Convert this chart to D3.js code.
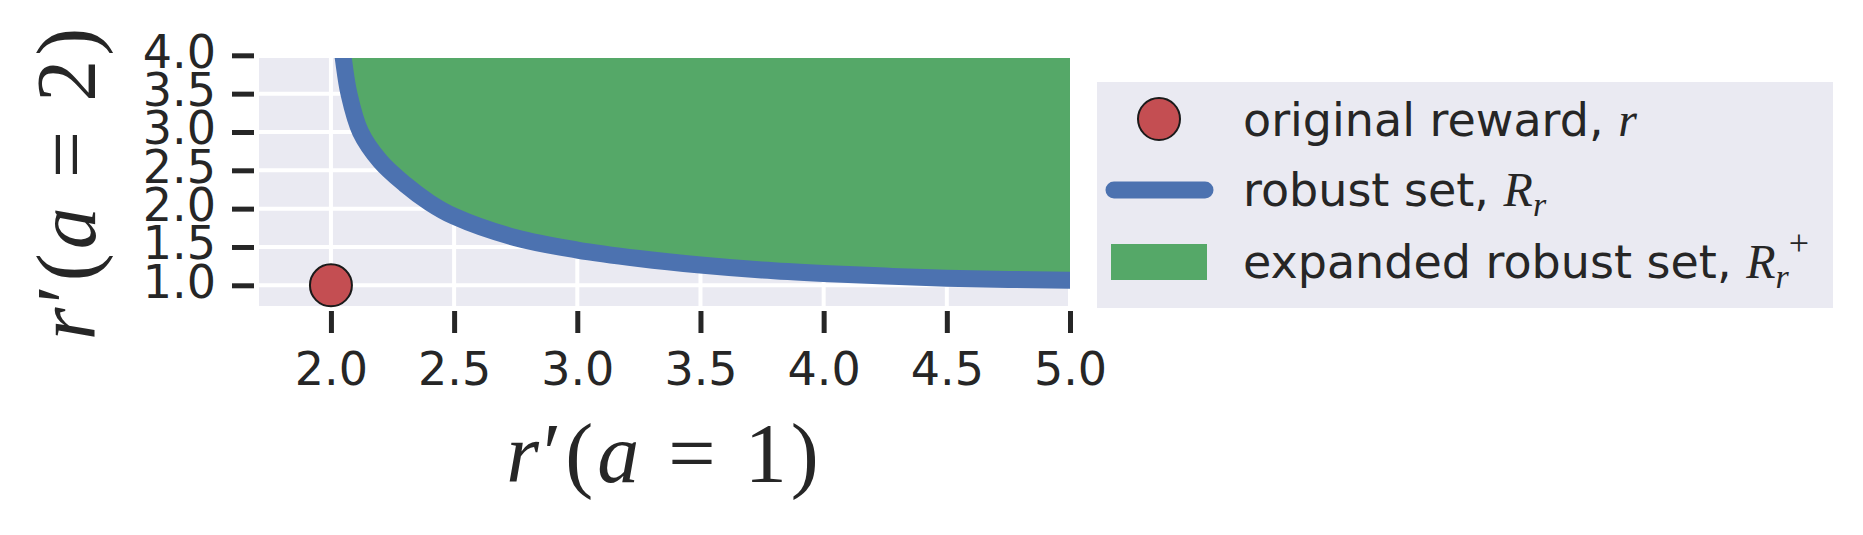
<!DOCTYPE html>
<html>
<head>
<meta charset="utf-8">
<script src="https://cdn.jsdelivr.net/npm/d3@7"></script>
<style>
  body { margin: 0; background: #fff; }
  text { fill: #262626; }
</style>
</head>
<body>
<div id="chart"></div>
<script>
// values
var xTicks = [2.0, 2.5, 3.0, 3.5, 4.0, 4.5, 5.0];
var yTicks = [1.0, 1.5, 2.0, 2.5, 3.0, 3.5, 4.0];
var robustX = [2.04, 2.05, 2.073, 2.12, 2.2, 2.3, 2.4, 2.5, 2.75, 3.0, 3.25, 3.5, 3.75, 4.0, 4.25, 4.5, 4.75, 5.0];
var robustY = [4.2, 3.965, 3.5, 3.0, 2.62, 2.32, 2.08, 1.9, 1.62, 1.46, 1.35, 1.265, 1.2, 1.155, 1.12, 1.093, 1.077, 1.065];
var originalX = [2.0];
var originalY = [1.0];
var legendLabels = ["original reward, ", "robust set, ", "expanded robust set, "];

function init() {
    var w = 1863;
    var h = 535;
    var left = 259, right = 1070, top = 58, bottom = 306;

    var svg = d3.select("#chart")
        .append("svg")
        .attr("width", w)
        .attr("height", h)
        .style("font-family", "'DejaVu Sans', sans-serif");

    var x = d3.scaleLinear().domain([1.708, 5.0]).range([left, right]);
    var y = d3.scaleLinear().domain([0.73, 3.965]).range([bottom, top]);

    svg.append("defs").append("clipPath")
        .attr("id", "plotclip")
        .append("rect")
        .attr("x", left).attr("y", top)
        .attr("width", right - left).attr("height", bottom - top);

    svg.append("rect")
        .attr("x", left).attr("y", top)
        .attr("width", right - left).attr("height", bottom - top)
        .attr("fill", "#EAEAF2");

    var plot = svg.append("g").attr("clip-path", "url(#plotclip)");

    // grid
    plot.selectAll(".vgrid")
        .data(xTicks)
        .enter()
        .append("line")
        .attr("x1", function (d) { return x(d); })
        .attr("x2", function (d) { return x(d); })
        .attr("y1", top).attr("y2", bottom)
        .attr("stroke", "#fff").attr("stroke-width", 4);
    plot.selectAll(".hgrid")
        .data(yTicks)
        .enter()
        .append("line")
        .attr("y1", function (d) { return y(d); })
        .attr("y2", function (d) { return y(d); })
        .attr("x1", left).attr("x2", right)
        .attr("stroke", "#fff").attr("stroke-width", 4);

    var pts = robustX.map(function (d, i) { return [d, robustY[i]]; });

    var area = d3.area()
        .x(function (d) { return x(d[0]); })
        .y0(top - 20)
        .y1(function (d) { return y(d[1]); })
        .curve(d3.curveCatmullRom.alpha(0.5));
    plot.append("path")
        .attr("d", area(pts))
        .attr("fill", "#55A868");

    var line = d3.line()
        .x(function (d) { return x(d[0]); })
        .y(function (d) { return y(d[1]); })
        .curve(d3.curveCatmullRom.alpha(0.5));
    plot.append("path")
        .attr("d", line(pts))
        .attr("fill", "none")
        .attr("stroke", "#4C72B0")
        .attr("stroke-width", 17)
        .attr("stroke-linecap", "round");

    // point (drawn unclipped, like matplotlib markers)
    svg.selectAll(".orig")
        .data(originalX)
        .enter()
        .append("circle")
        .attr("cx", function (d) { return x(d); })
        .attr("cy", function (d, i) { return y(originalY[i]); })
        .attr("r", 21)
        .attr("fill", "#C44E52")
        .attr("stroke", "#1a1a1a")
        .attr("stroke-width", 2);

    // axes
    var yAxis = d3.axisLeft(y).tickValues(yTicks).tickSize(22).tickPadding(16)
        .tickFormat(d3.format(".1f"));
    var gy = svg.append("g").attr("transform", "translate(254,0)").call(yAxis);
    var xAxis = d3.axisBottom(x).tickValues(xTicks).tickSize(22).tickPadding(19)
        .tickFormat(d3.format(".1f"));
    var gx = svg.append("g").attr("transform", "translate(0,311)").call(xAxis);
    [gx, gy].forEach(function (g) {
        g.select(".domain").remove();
        g.selectAll(".tick line").attr("stroke", "#262626").attr("stroke-width", 5);
        g.selectAll(".tick text")
            .attr("fill", "#262626")
            .attr("font-size", 46)
            .attr("font-family", "'DejaVu Sans', sans-serif");
    });
    gy.selectAll(".tick text").attr("dy", "0.26em");

    // axis labels
    function mathLabel(sel, num) {
        sel.attr("font-family", "'Liberation Serif', serif").attr("font-size", 84)
            .attr("letter-spacing", 4)
            .attr("text-anchor", "middle");
        sel.append("tspan").attr("font-style", "italic").text("r");
        sel.append("tspan").text("\u2032(");
        sel.append("tspan").attr("font-style", "italic").text("a");
        sel.append("tspan").text(" = " + num + ")");
    }
    mathLabel(svg.append("text").attr("x", (left + right) / 2).attr("y", 482), "1");
    mathLabel(svg.append("text").attr("transform", "translate(95," + ((top + bottom) / 2) + ") rotate(-90)"), "2");

    // legend
    var lg = svg.append("g");
    lg.append("rect")
        .attr("x", 1097).attr("y", 82)
        .attr("width", 736).attr("height", 226)
        .attr("fill", "#EAEAF2");
    lg.append("circle")
        .attr("cx", 1159).attr("cy", 119).attr("r", 21)
        .attr("fill", "#C44E52").attr("stroke", "#1a1a1a").attr("stroke-width", 2);
    lg.append("line")
        .attr("x1", 1114).attr("x2", 1205)
        .attr("y1", 190).attr("y2", 190)
        .attr("stroke", "#4C72B0").attr("stroke-width", 17)
        .attr("stroke-linecap", "round");
    lg.append("rect")
        .attr("x", 1111).attr("y", 244)
        .attr("width", 96).attr("height", 36)
        .attr("fill", "#55A868");

    var baselines = [136, 206, 278];
    legendLabels.forEach(function (label, i) {
        var t = lg.append("text")
            .attr("x", 1243).attr("y", baselines[i])
            .attr("font-size", 46);
        t.append("tspan").text(label);
        var m = "'Liberation Serif', serif";
        if (i === 0) {
            t.append("tspan").attr("font-family", m).attr("font-style", "italic")
                .attr("font-size", 48).text("r");
        } else {
            t.append("tspan").attr("font-family", m).attr("font-style", "italic")
                .attr("font-size", 48).text("R");
            t.append("tspan").attr("font-family", m).attr("font-style", "italic")
                .attr("font-size", 34).attr("dy", 10).text("r");
            if (i === 2) {
                t.append("tspan").attr("font-family", m)
                    .attr("font-size", 36).attr("dy", -33).text("+");
            }
        }
    });
}
window.onload = init;
</script>
</body>
</html>
